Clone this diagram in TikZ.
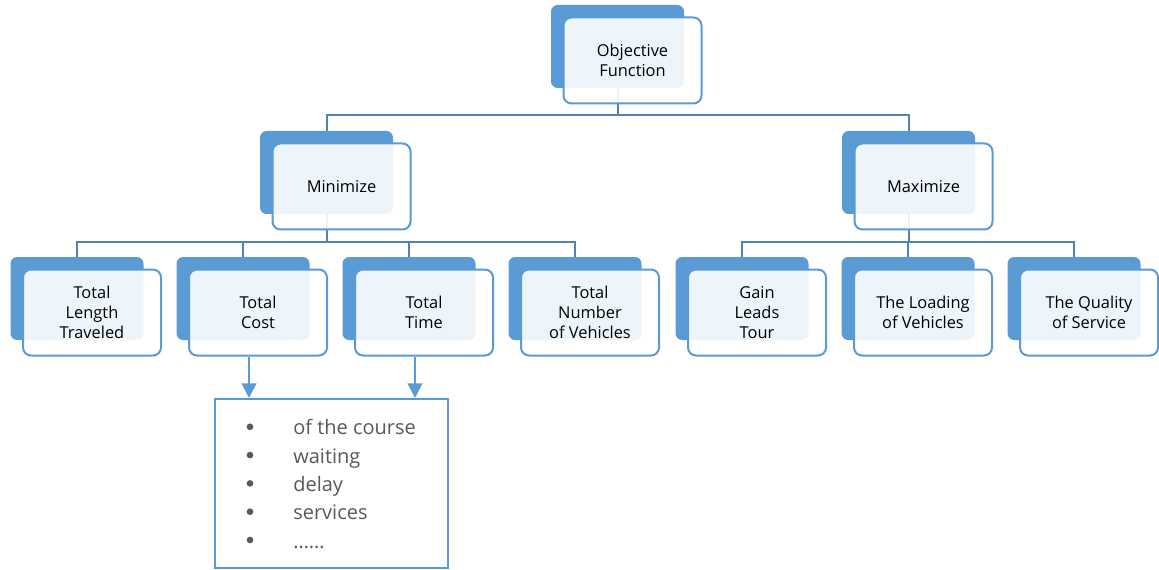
\documentclass[tikz,border=0pt]{standalone}
\usepackage{fontspec}
\setmainfont{Open Sans}
\usepackage{xcolor}
\usetikzlibrary{shapes, positioning, arrows.meta, backgrounds}
\definecolor{boxblue}{HTML}{5B9BD5}
\definecolor{linkblue}{HTML}{4E84BD}
\definecolor{listgray}{HTML}{595959}

\tikzset{
	backbox/.style={fill=boxblue, rounded corners=5pt, minimum width=99.75pt, minimum height=62.25pt, inner sep=0pt},
	frontbox/.style={draw=boxblue, line width=1.5pt, fill=white, fill opacity=0.9, text opacity=1,
		rounded corners=6pt, minimum width=103.5pt, minimum height=64.5pt, inner sep=0pt,
		align=center, font=\fontsize{12.3}{15}\selectfont},
	link/.style={draw=linkblue, line width=1.5pt},
	arrowlink/.style={draw=boxblue, line width=1.5pt, -{Triangle[width=11pt, length=11pt]}},
	listbox/.style={draw=boxblue, line width=1.5pt, fill=white, minimum width=174.75pt, minimum height=126.75pt},
	bulletdot/.style={circle, fill=listgray, inner sep=0pt, minimum size=5pt},
	itemtxt/.style={text=listgray, inner sep=0pt, font=\fontsize{15}{18}\selectfont}
}

% back box + front box, text on the front one
\newcommand{\tierbox}[4]{
	\node[backbox] (#1B) at (#2,#3) {};
	\node[frontbox] (#1) at ([shift={(15,14)}]#1B) {#4};
}

\begin{document}
\begin{tikzpicture}[x=0.75pt, y=-0.75pt]
	\useasboundingbox (0,0) rectangle (1159,570);
	
	\tierbox{obj}{617.5}{46.5}{Objective\\Function}
	\tierbox{min}{326.5}{172.5}{Minimize}
	\tierbox{max}{908.5}{172.5}{Maximize}
	
	\tierbox{len}{77}{298.5}{Total\\Length\\Traveled}
	\tierbox{cost}{243}{298.5}{Total\\Cost}
	\tierbox{time}{409}{298.5}{Total\\Time}
	\tierbox{veh}{575}{298.5}{Total\\Number\\of Vehicles}
	\tierbox{gain}{742}{298.5}{Gain\\Leads\\Tour}
	\tierbox{load}{908}{298.5}{The Loading\\of Vehicles}
	\tierbox{qual}{1074}{298.5}{The Quality\\of Service}
	
	\coordinate (bus1) at (617.5,115);
	\coordinate (bus2) at (326.5,242);
	\coordinate (bus3) at (908.5,242);
	
	\begin{scope}[on background layer]
		\draw[link] (objB.south) -- (bus1);
		\draw[link] (minB.north) |- (bus1) -| (maxB.north);
		
		\draw[link] (minB.south) -- (bus2);
		\draw[link] (lenB.north) |- (bus2) -| (vehB.north);
		\foreach \n in {costB, timeB}
			\draw[link] (\n.north) -- (\n.north |- bus2);
		
		\draw[link] (maxB.south) -- (bus3);
		\draw[link] (gainB.north) |- (bus3) -| (qualB.north);
		\draw[link] (loadB.north) -- (loadB.north |- bus3);
	\end{scope}
	
	\node[listbox] (lst) at (331.5,483.5) {};
	\draw[arrowlink] ([xshift=-6.75pt]cost.south) -- ([xshift=-6.75pt]cost.south |- lst.north);
	\draw[arrowlink] ([xshift=-6.75pt]time.south) -- ([xshift=-6.75pt]time.south |- lst.north);
	
	\foreach \txt [count=\i] in {of the course, waiting, delay, services, ……}{
		\node[bulletdot] (dot\i) at (250, 398.5+28.3*\i) {};
		\node[itemtxt, anchor=base west] (item\i) at (293, 406.5+28.3*\i) {\txt};
	}
\end{tikzpicture}
\end{document}
